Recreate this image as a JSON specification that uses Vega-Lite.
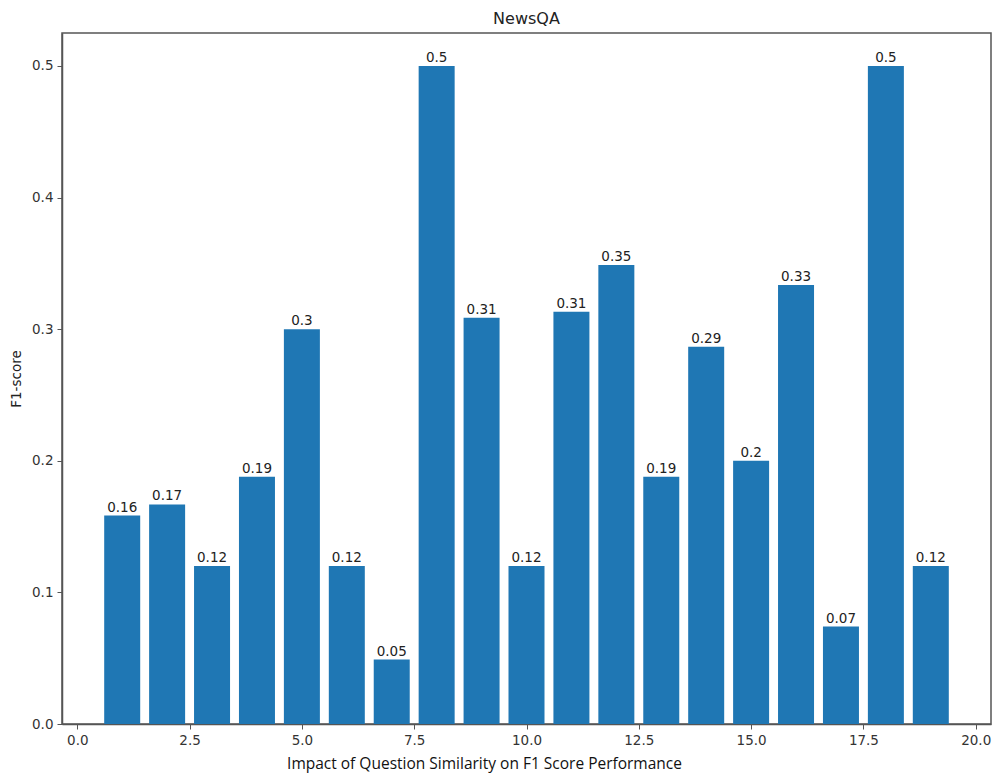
{
  "$schema": "https://vega.github.io/schema/vega-lite/v6.json",
  "autosize": {"type": "none"},
  "padding": {"left": 62, "top": 33, "right": 10, "bottom": 54},
  "width": 929,
  "height": 691,
  "title": {
    "text": "NewsQA",
    "font": "DejaVu Sans",
    "fontSize": 16,
    "fontWeight": "normal",
    "color": "#222222",
    "baseline": "alphabetic",
    "offset": 9,
    "dy": 16
  },
  "data": {
    "values": [
      {"x": 1, "f1": 0.1584},
      {"x": 2, "f1": 0.1668},
      {"x": 3, "f1": 0.12},
      {"x": 4, "f1": 0.1878},
      {"x": 5, "f1": 0.3},
      {"x": 6, "f1": 0.12},
      {"x": 7, "f1": 0.049},
      {"x": 8, "f1": 0.5},
      {"x": 9, "f1": 0.3087},
      {"x": 10, "f1": 0.12},
      {"x": 11, "f1": 0.3133},
      {"x": 12, "f1": 0.3487},
      {"x": 13, "f1": 0.1878},
      {"x": 14, "f1": 0.2867},
      {"x": 15, "f1": 0.2},
      {"x": 16, "f1": 0.3335},
      {"x": 17, "f1": 0.074},
      {"x": 18, "f1": 0.5},
      {"x": 19, "f1": 0.12}
    ]
  },
  "encoding": {
    "x": {
      "field": "x",
      "type": "quantitative",
      "scale": {"domain": [-0.34, 20.34], "nice": false, "zero": false, "padding": 0},
      "axis": {
        "values": [0, 2.5, 5, 7.5, 10, 12.5, 15, 17.5, 20],
        "format": ".1f",
        "grid": false,
        "title": "Impact of Question Similarity on F1 Score Performance",
        "titleFont": "Open Sans",
        "titleFontSize": 15.5,
        "titleFontWeight": "normal",
        "titleColor": "#111111",
        "titleX": 422,
        "titleY": 44,
        "titleBaseline": "alphabetic",
        "titleAnchor": "middle"
      }
    },
    "y": {
      "field": "f1",
      "type": "quantitative",
      "scale": {"domain": [0, 0.525], "nice": false, "padding": 0},
      "axis": {
        "values": [0, 0.1, 0.2, 0.3, 0.4, 0.5],
        "format": ".1f",
        "grid": false,
        "title": "F1-score",
        "titleFont": "DejaVu Sans",
        "titleFontSize": 13.5,
        "titleFontWeight": "normal",
        "titleColor": "#222222",
        "titlePadding": 8
      }
    }
  },
  "layer": [
    {
      "mark": {"type": "bar", "width": 36, "color": "#1f77b4"}
    },
    {
      "mark": {
        "type": "text",
        "font": "DejaVu Sans",
        "fontSize": 13.5,
        "color": "#222222",
        "baseline": "bottom",
        "dy": -1
      },
      "encoding": {
        "text": {"field": "f1", "type": "quantitative", "format": ".2~f"}
      }
    }
  ],
  "config": {
    "view": {"stroke": "#555555", "strokeWidth": 1.5},
    "axis": {
      "labelFont": "DejaVu Sans",
      "labelFontSize": 13.5,
      "labelColor": "#333333",
      "domainColor": "#555555",
      "domainWidth": 1.5,
      "tickColor": "#555555",
      "tickSize": 5,
      "labelPadding": 4
    }
  }
}
